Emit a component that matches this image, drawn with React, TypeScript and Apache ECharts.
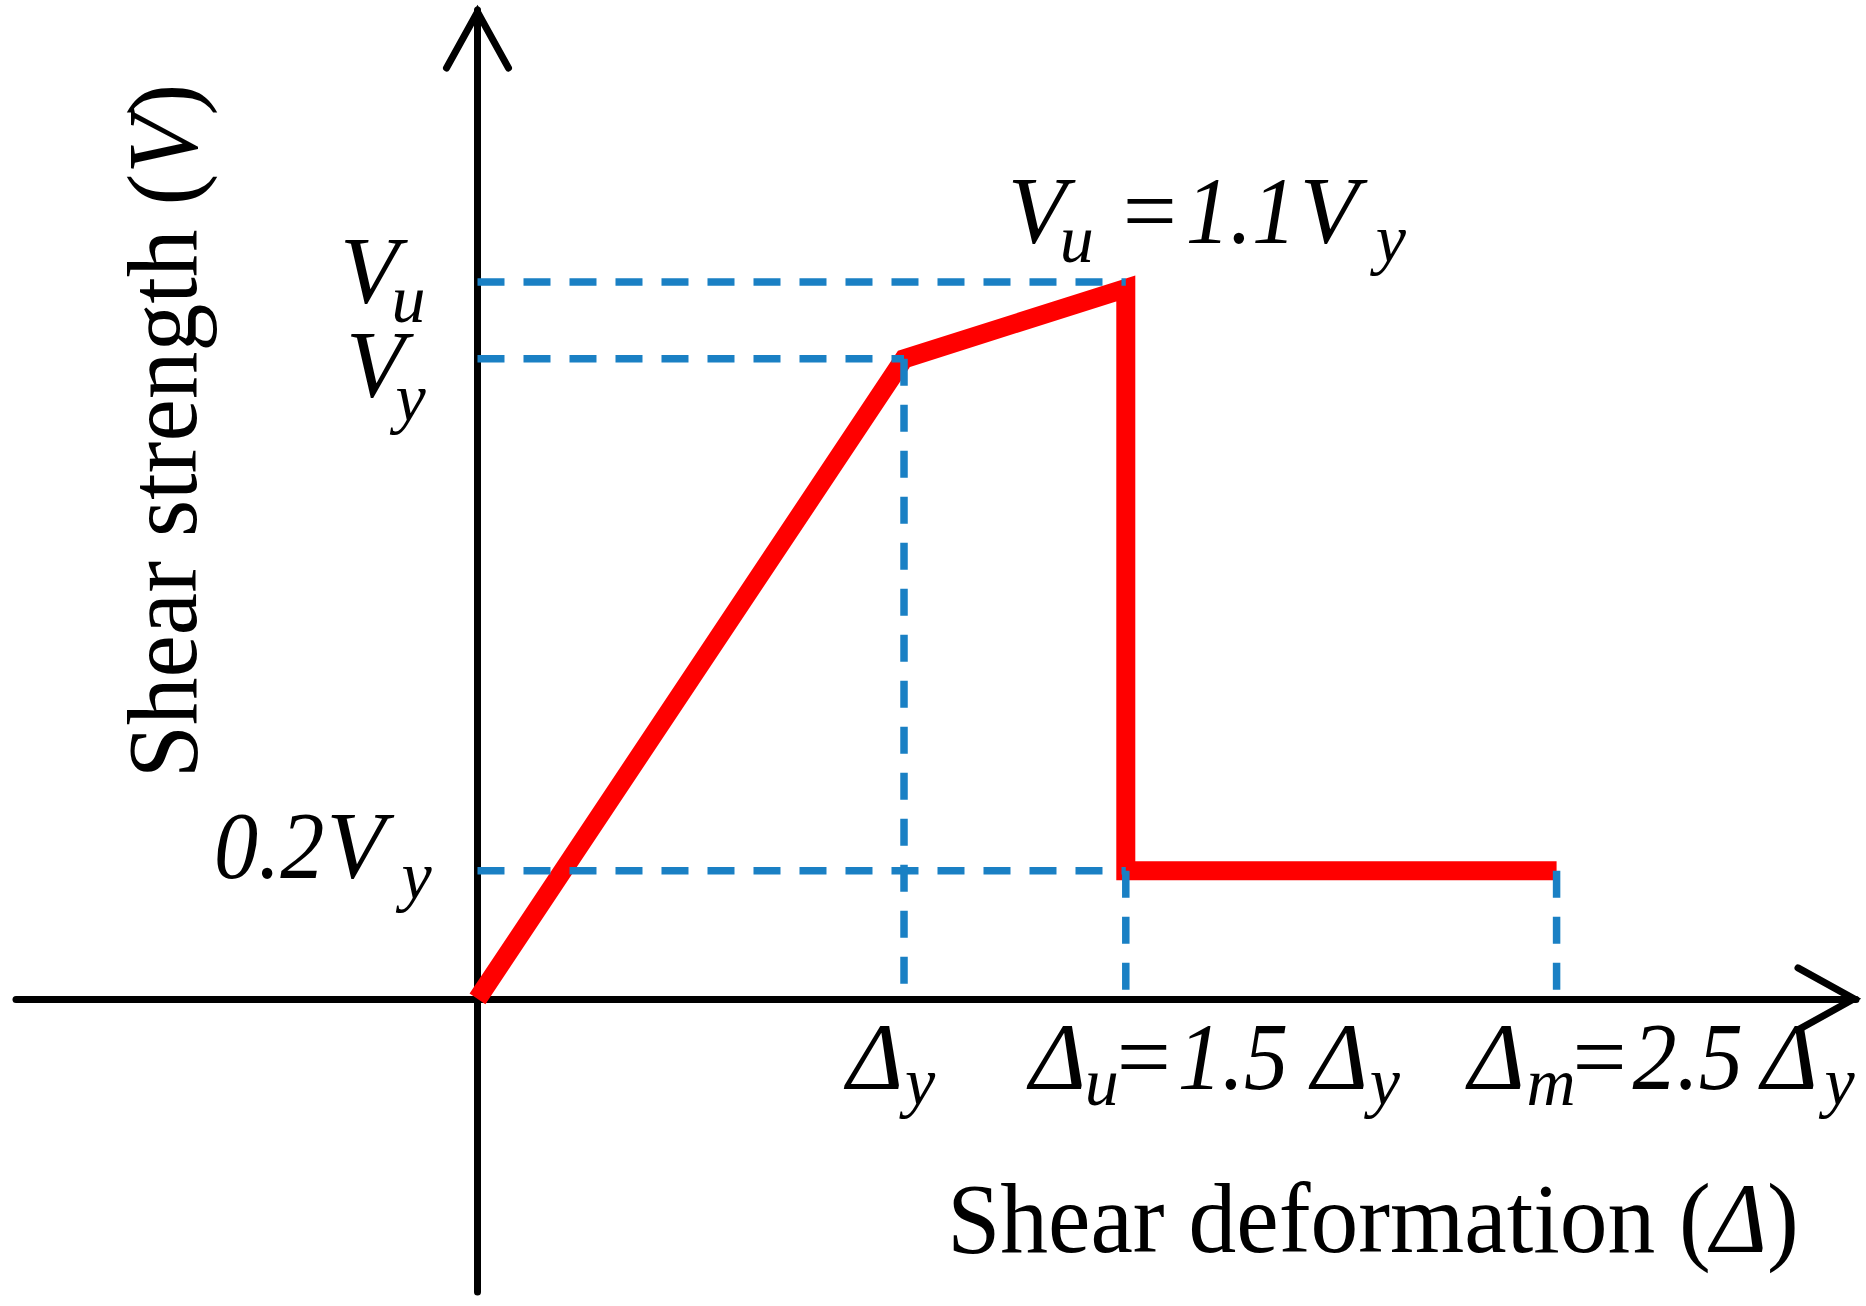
import React, { useEffect, useRef } from "react";
import * as echarts from "echarts";

// ---- data (x in units of Δy, y in units of Vy) ----
const curveX = [0, 1.0, 1.52, 1.52, 2.53];
const curveY = [0, 1.0, 1.11, 0.2, 0.2];
const hGuideLevel = [1.12, 1.0, 0.2]; // Vu, Vy, 0.2Vy
const hGuideEnd = [1.52, 1.0, 1.52];
const vGuidePos = [1.0, 1.52, 2.53]; // Δy, Δu, Δm
const vGuideTop = [1.0, 0.2, 0.2];
const xExtent = [-1.082, 3.232];
const yExtent = [-0.458, 1.545];

// ---- texts ----
const xTitleParts = ["Shear deformation (", "Δ", ")"];
const yTitleParts = ["Shear strength (", "V", ")"];
const vuLeftText = ["V", "u"];
const vyLeftText = ["V", "y"];
const v02Text = ["0.2", "V", "y"];
const vuTopText = ["V", "u", "=", "1.1", "V", "y"];
const dyText = ["Δ", "y"];
const duText = ["Δ", "u", "=", "1.5", "Δ", "y"];
const dmText = ["Δ", "m", "=", "2.5", "Δ", "y"];

const FONT = '"Liberation Serif", "Times New Roman", serif';
const MAIN = 96;
const SUB = 68;
const RED = "#ff0000";
const BLUE = "#1a80c4";

type SegLayout = { size: number; italic: boolean; dx: number; dy: number; sx: number };

const M = (dx: number, dy: number, italic = true, sx = 1): SegLayout => ({ size: MAIN, italic, dx, dy, sx });
const D = (dx: number, dy: number): SegLayout => ({ size: MAIN, italic: true, dx, dy, sx: 0.92 });
const S = (dx: number, dy: number): SegLayout => ({ size: SUB, italic: true, dx, dy, sx: 1 });

export default function App() {
  const ref = useRef<HTMLDivElement>(null);

  useEffect(() => {
    if (!ref.current) return;
    const chart = echarts.init(ref.current, undefined, { renderer: "svg" });

    const dashStyle = { color: BLUE, width: 7.5, type: [27, 19], cap: "butt" };
    const guideSeries: any[] = [];
    hGuideLevel.forEach((lv, i) => {
      guideSeries.push({
        type: "line",
        data: [
          [0, lv],
          [hGuideEnd[i], lv],
        ],
        symbol: "none",
        z: 3,
        lineStyle: dashStyle,
      });
    });
    vGuidePos.forEach((xv, i) => {
      guideSeries.push({
        type: "line",
        data: [
          [xv, vGuideTop[i]],
          [xv, 0],
        ],
        symbol: "none",
        z: 3,
        lineStyle: dashStyle,
      });
    });

    chart.setOption({
      animation: false,
      grid: { left: 16, right: 10, top: 10, bottom: 14, containLabel: false },
      xAxis: {
        type: "value",
        min: xExtent[0],
        max: xExtent[1],
        axisLine: { show: true, onZero: true, lineStyle: { color: "#000", width: 7 } },
        axisTick: { show: false },
        axisLabel: { show: false },
        splitLine: { show: false },
      },
      yAxis: {
        type: "value",
        min: yExtent[0],
        max: yExtent[1],
        axisLine: { show: true, onZero: true, lineStyle: { color: "#000", width: 7 } },
        axisTick: { show: false },
        axisLabel: { show: false },
        splitLine: { show: false },
      },
      series: [
        {
          type: "line",
          data: curveX.map((x, i) => [x, curveY[i]]),
          symbol: "none",
          z: 2,
          lineStyle: { color: RED, width: 19, join: "miter", cap: "butt" },
        },
        ...guideSeries,
      ],
    });

    const px = (x: number, y: number) =>
      chart.convertToPixel({ xAxisIndex: 0, yAxisIndex: 0 }, [x, y]) as number[];

    const graphics: any[] = [];

    const addGroup = (anchor: number[], texts: string[], layout: SegLayout[]) => {
      const a = px(anchor[0], anchor[1]);
      texts.forEach((t, i) => {
        const l = layout[i];
        graphics.push({
          type: "text",
          x: a[0] + l.dx,
          y: a[1] + l.dy - 0.3375 * l.size,
          scaleX: l.sx,
          silent: true,
          style: {
            text: t,
            fill: "#000",
            fontSize: l.size,
            fontFamily: FONT,
            fontStyle: l.italic ? "italic" : "normal",
            lineHeight: Math.round(l.size * 0.7),
            textAlign: "left",
            textVerticalAlign: "middle",
          },
        });
      });
    };

    // left labels
    addGroup([0, hGuideLevel[0]], vuLeftText, [M(-137.5, 21), S(-86, 40)]);
    addGroup([0, hGuideLevel[1]], vyLeftText, [M(-131.5, 38), S(-82, 62)]);
    addGroup([0, hGuideLevel[2]], v02Text, [D(-263.5, 7), M(-151, 7), S(-76, 28)]);
    // top label
    addGroup([curveX[2], hGuideLevel[0]], vuTopText, [
      M(-118, -39),
      S(-66, -20),
      M(-3, -39, false),
      D(60, -39),
      M(174, -39),
      S(250, -20),
    ]);
    // bottom labels
    addGroup([vGuidePos[0], 0], dyText, [M(-57, 90), S(1, 106)]);
    addGroup([vGuidePos[1], 0], duText, [
      M(-96, 90),
      S(-41, 106),
      M(-9, 90, false),
      D(52, 90),
      M(186, 90),
      S(244, 106),
    ]);
    addGroup([vGuidePos[2], 0], dmText, [
      M(-88, 90),
      S(-30, 106),
      M(16, 90, false),
      D(76, 90),
      M(205, 90),
      S(268, 106),
    ]);

    // axis arrow heads (open chevrons)
    const chevron = { stroke: "#000", lineWidth: 7, fill: null, lineCap: "round", lineJoin: "miter" };
    const xEnd = px(xExtent[1], 0);
    graphics.push({
      type: "polyline",
      silent: true,
      shape: {
        points: [
          [xEnd[0] - 58, xEnd[1] - 31],
          [xEnd[0] - 2, xEnd[1]],
          [xEnd[0] - 58, xEnd[1] + 31],
        ],
      },
      style: chevron,
      z: 10,
    });
    const yEnd = px(0, yExtent[1]);
    graphics.push({
      type: "polyline",
      silent: true,
      shape: {
        points: [
          [yEnd[0] - 31, yEnd[1] + 58],
          [yEnd[0], yEnd[1] + 2],
          [yEnd[0] + 31, yEnd[1] + 58],
        ],
      },
      style: chevron,
      z: 10,
    });

    // axis titles
    const richStyles = {
      n: { fontSize: 100, fontFamily: FONT, fontStyle: "normal", fill: "#000" },
      i: { fontSize: 100, fontFamily: FONT, fontStyle: "italic", fill: "#000" },
    };
    const xt = px(xExtent[1], 0);
    graphics.push({
      type: "text",
      x: xt[0] - 483,
      y: xt[1] + 219,
      scaleX: 0.955,
      silent: true,
      style: {
        text: `{n|${xTitleParts[0]}}{i|${xTitleParts[1]}}{n|${xTitleParts[2]}}`,
        rich: richStyles,
        fontSize: 100,
        fontFamily: FONT,
        textAlign: "center",
        textVerticalAlign: "middle",
      },
    });
    const yt = px(0, yExtent[1]);
    graphics.push({
      type: "text",
      x: yt[0] - 315,
      y: yt[1] + 421,
      rotation: Math.PI / 2,
      scaleX: 0.955,
      silent: true,
      style: {
        text: `{n|${yTitleParts[0]}}{i|${yTitleParts[1]}}{n|${yTitleParts[2]}}`,
        rich: richStyles,
        fontSize: 100,
        fontFamily: FONT,
        textAlign: "center",
        textVerticalAlign: "middle",
      },
    });

    chart.setOption({ graphic: graphics });

    return () => chart.dispose();
  }, []);

  return (
    <div
      ref={ref}
      style={{ position: "absolute", left: 0, top: 0, width: 1866, height: 1306, background: "#fff" }}
    />
  );
}
